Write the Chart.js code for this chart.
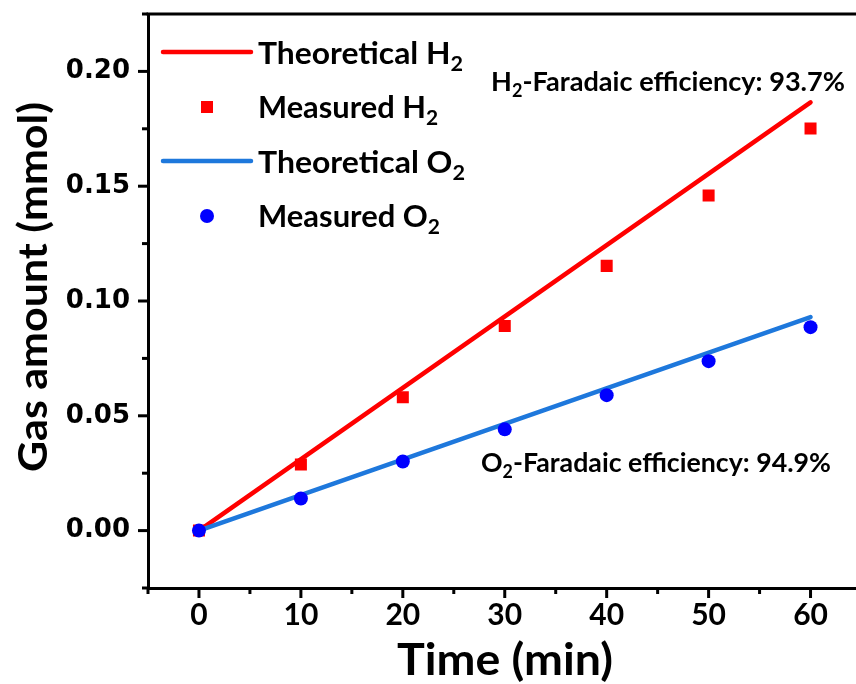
<!DOCTYPE html>
<html>
<head>
<meta charset="utf-8">
<script src="https://cdn.jsdelivr.net/npm/chart.js@4.4.0/dist/chart.umd.min.js"></script>
<style>
  html, body { margin: 0; padding: 0; background: #fff; overflow: hidden; }
  #wrap { width: 870px; height: 684px; }
</style>
</head>
<body>
<div id="wrap"><canvas id="chart" width="870" height="684"></canvas></div>
<script>
// measured points
const timeMin = [0, 10, 20, 30, 40, 50, 60];
const measuredH2 = [0, 0.0288, 0.0581, 0.0891, 0.1153, 0.1459, 0.1751];
const measuredO2 = [0, 0.0140, 0.0301, 0.0441, 0.0590, 0.0738, 0.0886];
// theoretical straight lines
const theoryTime = [0, 60];
const theoryH2 = [0, 0.1865];
const theoryO2 = [0, 0.0930];

const xTickLabels = [0, 10, 20, 30, 40, 50, 60];
const yTickLabels = ['0.00', '0.05', '0.10', '0.15', '0.20'];
const seriesLabels = ['Theoretical H_2', 'Measured H_2', 'Theoretical O_2', 'Measured O_2'];
const noteH2 = 'H_2-Faradaic efficiency: 93.7%';
const noteO2 = 'O_2-Faradaic efficiency: 94.9%';

const RED = '#ff0000';
const LINE_BLUE = '#1e78dc';
const DOT_BLUE = '#0000ff';
const FONT = 'Lato, "Open Sans", sans-serif';

function pts(xs, ys) {
    return xs.map((x, i) => ({ x: x, y: ys[i] }));
}

// "H_2" -> [{t:'H'}, {t:'2', sub:true}]
function parseParts(str) {
    const out = [];
    const bits = str.split(/_(\d)/);
    bits.forEach((b, i) => {
        if (b === '') return;
        out.push({ t: b, sub: i % 2 === 1 });
    });
    return out;
}

// draws text with subscripts, squeezed horizontally to a given width
function drawText(ctx, str, x, baseline, size, width, align) {
    const parts = parseParts(str);
    const subSize = Math.round(size * 0.68);
    let natural = 0;
    parts.forEach(p => {
        ctx.font = `bold ${p.sub ? subSize : size}px ${FONT}`;
        p.w = ctx.measureText(p.t).width;
        natural += p.w;
    });
    const sx = width / natural;
    ctx.save();
    ctx.translate(align === 'center' ? x - width / 2 : x, baseline);
    ctx.scale(sx, 1);
    ctx.fillStyle = '#000';
    ctx.textAlign = 'left';
    ctx.textBaseline = 'alphabetic';
    let cx = 0;
    parts.forEach(p => {
        ctx.font = `bold ${p.sub ? subSize : size}px ${FONT}`;
        ctx.fillText(p.t, cx, p.sub ? size * 0.22 : 0);
        cx += p.w;
    });
    ctx.restore();
}

const decorPlugin = {
    id: 'decor',
    afterDraw(chart) {
        const ctx = chart.ctx;
        const area = chart.chartArea;
        const xs = chart.scales.x;
        const ys = chart.scales.y;

        ctx.save();
        ctx.strokeStyle = '#000';
        ctx.lineWidth = 3;
        ctx.lineCap = 'butt';

        // top frame line
        ctx.beginPath();
        ctx.moveTo(area.left - 1.5, area.top);
        ctx.lineTo(area.right, area.top);
        ctx.stroke();

        // tick marks, major ones where a label is shown
        xs.ticks.forEach(t => {
            const px = xs.getPixelForValue(t.value);
            const len = xTickLabels.includes(Math.round(t.value)) && t.value % 10 === 0 ? 10 : 6;
            ctx.beginPath();
            ctx.moveTo(px, area.bottom);
            ctx.lineTo(px, area.bottom + len);
            ctx.stroke();
        });
        ys.ticks.forEach(t => {
            const py = ys.getPixelForValue(t.value);
            const lbl = t.value.toFixed(2);
            const len = yTickLabels.includes(lbl) && Math.round(t.value * 1000) % 50 === 0 ? 10 : 6;
            ctx.beginPath();
            ctx.moveTo(area.left, py);
            ctx.lineTo(area.left - len, py);
            ctx.stroke();
        });

        // legend
        const rows = [52, 107, 161, 216];
        const baselines = [64, 118, 173, 227];
        const widths = [205, 180, 207, 182];
        chart.data.datasets.slice().sort((a, b) => b.order - a.order).forEach((ds, i) => {
            const y = rows[i];
            if (ds.showLine) {
                ctx.strokeStyle = ds.borderColor;
                ctx.lineWidth = 4.5;
                ctx.lineCap = 'round';
                ctx.beginPath();
                ctx.moveTo(163, y);
                ctx.lineTo(251, y);
                ctx.stroke();
            } else {
                ctx.fillStyle = ds.backgroundColor;
                if (ds.pointStyle === 'rect') {
                    ctx.fillRect(201, y - 6, 12, 12);
                } else {
                    ctx.beginPath();
                    ctx.arc(207, y, 7, 0, Math.PI * 2);
                    ctx.fill();
                }
            }
            drawText(ctx, seriesLabels[i], 258, baselines[i], 31, widths[i]);
        });

        // efficiency notes
        drawText(ctx, noteH2, 491, 91, 27, 354);
        drawText(ctx, noteO2, 481, 472, 27, 350);

        // axis titles
        drawText(ctx, 'Time (min)', 505, 675, 44, 216, 'center');
        ctx.save();
        ctx.translate(47, 287);
        ctx.rotate(-Math.PI / 2);
        drawText(ctx, 'Gas amount (mmol)', 0, 0, 40, 370, 'center');
        ctx.restore();

        ctx.restore();
    }
};

const ctx = document.getElementById('chart').getContext('2d');
new Chart(ctx, {
    type: 'scatter',
    data: {
        datasets: [
            {
                label: seriesLabels[3],
                data: pts(timeMin, measuredO2),
                pointStyle: 'circle',
                pointRadius: 7,
                backgroundColor: DOT_BLUE,
                borderWidth: 0,
                order: 0
            },
            {
                label: seriesLabels[2],
                data: pts(theoryTime, theoryO2),
                showLine: true,
                borderColor: LINE_BLUE,
                borderWidth: 4.5,
                borderCapStyle: 'round',
                pointRadius: 0,
                order: 1
            },
            {
                label: seriesLabels[1],
                data: pts(timeMin, measuredH2),
                pointStyle: 'rect',
                pointRadius: 8.5,
                backgroundColor: RED,
                borderWidth: 0,
                order: 2
            },
            {
                label: seriesLabels[0],
                data: pts(theoryTime, theoryH2),
                showLine: true,
                borderColor: RED,
                borderWidth: 4.5,
                borderCapStyle: 'round',
                pointRadius: 0,
                order: 3
            }
        ]
    },
    options: {
        responsive: false,
        animation: false,
        devicePixelRatio: 1,
        layout: { padding: { left: 0, top: 14, right: 8, bottom: 0 } },
        plugins: {
            legend: { display: false },
            tooltip: { enabled: false }
        },
        scales: {
            x: {
                type: 'linear',
                min: -5,
                max: 65,
                afterFit: s => {
                    s.height = 96;
                    s.paddingLeft = 0;
                    s.paddingRight = 0;
                },
                border: { display: true, color: '#000', width: 3 },
                grid: { display: false, drawTicks: false },
                ticks: {
                    stepSize: 5,
                    padding: 9,
                    color: '#000',
                    font: { family: FONT, size: 30, weight: 'bold' },
                    maxRotation: 0,
                    autoSkip: false,
                    callback: v => (v % 10 === 0 && xTickLabels.includes(v) ? String(v) : '')
                }
            },
            y: {
                type: 'linear',
                min: -0.025,
                max: 0.225,
                afterFit: s => {
                    s.width = 148;
                    s.paddingTop = 0;
                    s.paddingBottom = 0;
                },
                border: { display: true, color: '#000', width: 3 },
                grid: { display: false, drawTicks: false },
                ticks: {
                    stepSize: 0.025,
                    padding: 18,
                    color: '#000',
                    font: { family: '"DejaVu Sans", Verdana, sans-serif', size: 26, weight: 'bold' },
                    autoSkip: false,
                    callback: v => {
                        const lbl = v.toFixed(2);
                        return Math.round(v * 1000) % 50 === 0 && yTickLabels.includes(lbl) ? lbl : '';
                    }
                }
            }
        }
    },
    plugins: [decorPlugin]
});
</script>
</body>
</html>
